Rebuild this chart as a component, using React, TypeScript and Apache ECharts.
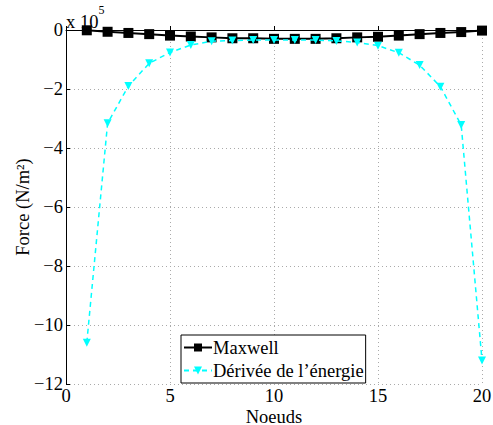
import React, { useEffect, useRef } from "react";
import * as echarts from "echarts";

const nodes = [1, 2, 3, 4, 5, 6, 7, 8, 9, 10, 11, 12, 13, 14, 15, 16, 17, 18, 19, 20];
// values in units of 1e5 N/m²
const maxwell = [-0.01, -0.06, -0.1, -0.14, -0.19, -0.22, -0.25, -0.28, -0.28, -0.3, -0.3, -0.3, -0.28, -0.25, -0.23, -0.19, -0.14, -0.1, -0.07, -0.02];
const energie = [-10.6, -3.16, -1.9, -1.13, -0.76, -0.51, -0.38, -0.36, -0.34, -0.34, -0.34, -0.34, -0.37, -0.42, -0.53, -0.77, -1.19, -1.92, -3.22, -11.2];
const seriesNames = ["Maxwell", "Dérivée de l’énergie"];

const FONT = "'Liberation Serif', 'Times New Roman', serif";
const FS = 18.5;

export default function App() {
  const ref = useRef<HTMLDivElement>(null);
  useEffect(() => {
    const chart = echarts.init(ref.current!, null, { renderer: "svg" });
    chart.setOption({
      animation: false,
      backgroundColor: "#fff",
      textStyle: { fontFamily: FONT },
      grid: { left: 66, right: 11, top: 30, bottom: 41, containLabel: false, outerBoundsMode: "none" },
      graphic: [
        {
          type: "text",
          left: 66,
          top: 4,
          style: {
            text: "{a|x 10}{b|5}",
            rich: {
              a: { fontFamily: FONT, fontSize: FS, fill: "#000", verticalAlign: "bottom", padding: [8, 0, 0, 0] },
              b: { fontFamily: FONT, fontSize: 12, fill: "#000", verticalAlign: "top", padding: [0, 0, 10, 0] },
            },
          },
        },
      ],
      legend: {
        orient: "vertical",
        left: 181,
        top: 335,
        padding: [3, 2, 3, 2],
        itemGap: 4,
        itemWidth: 28,
        itemHeight: 10,
        backgroundColor: "#fff",
        borderColor: "#000",
        borderWidth: 1,
        borderRadius: 0,
        textStyle: { fontFamily: FONT, fontSize: FS, color: "#000", padding: [0, 0, 0, -4] },
        data: seriesNames,
      },
      xAxis: {
        type: "value",
        min: 0,
        max: 20,
        interval: 5,
        name: "Noeuds",
        nameLocation: "middle",
        nameGap: 23,
        nameMoveOverlap: false,
        nameTextStyle: { fontFamily: FONT, fontSize: FS, color: "#000" },
        axisLine: { show: true, lineStyle: { color: "#000", width: 1 } },
        axisTick: { show: true, inside: true, length: 4, lineStyle: { color: "#000" } },
        axisLabel: { fontFamily: FONT, fontSize: FS, color: "#000", margin: 2 },
        splitLine: { show: true, lineStyle: { color: "#aaa", type: [1, 3], width: 1 } },
      },
      yAxis: {
        type: "value",
        min: -12,
        max: 0,
        interval: 2,
        name: "Force (N/m²)",
        nameLocation: "middle",
        nameGap: 34,
        nameMoveOverlap: false,
        nameTextStyle: { fontFamily: FONT, fontSize: FS, color: "#000" },
        axisLine: { show: true, lineStyle: { color: "#000", width: 1 } },
        axisTick: { show: true, inside: true, length: 4, lineStyle: { color: "#000" } },
        axisLabel: {
          fontFamily: FONT,
          fontSize: FS,
          color: "#000",
          margin: 3,
          formatter: (v: number) => String(v).replace("-", "−"),
        },
        splitLine: { show: true, lineStyle: { color: "#aaa", type: [1, 3], width: 1 } },
      },
      series: [
        {
          name: seriesNames[0],
          type: "line",
          data: nodes.map((x, i) => [x, maxwell[i]]),
          symbol: "rect",
          symbolSize: 10,
          itemStyle: { color: "#000" },
          lineStyle: { color: "#000", width: 2 },
          z: 2,
        },
        {
          name: seriesNames[1],
          type: "line",
          data: nodes.map((x, i) => [x, energie[i]]),
          symbol: "triangle",
          symbolRotate: 180,
          symbolSize: 8,
          itemStyle: { color: "#00ffff" },
          lineStyle: { color: "#00ffff", width: 1.5, type: [5, 4] },
          z: 3,
        },
      ],
    });
    return () => chart.dispose();
  }, []);
  return <div ref={ref} style={{ position: "fixed", left: 0, top: 0, width: 493, height: 425 }} />;
}
